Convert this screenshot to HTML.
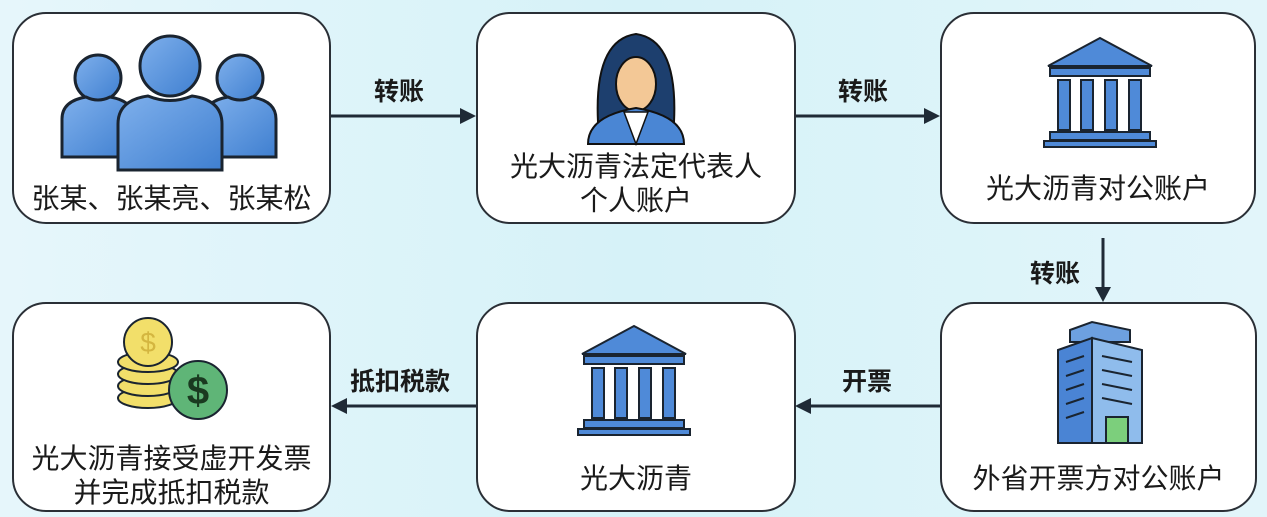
<!DOCTYPE html>
<html><head><meta charset="utf-8"><style>
body{margin:0;width:1267px;height:517px;overflow:hidden;background:linear-gradient(90deg,#e6f6fb,#d6f2f8 50%,#e2f5fa);font-family:"Liberation Sans","Noto Sans CJK SC",sans-serif;position:relative}
.b{position:absolute;background:#fff;border:2px solid #2a2f36;border-radius:34px;box-sizing:border-box}
.t{position:absolute;left:0;right:0;text-align:center;font-size:28px;color:#1a1a1a;line-height:34px}
.l{position:absolute;font-size:25px;color:#1a1a1a;font-weight:bold}
svg{position:absolute;left:0;top:0}
</style></head><body>
<div class="b" style="left:12px;top:12px;width:319px;height:212px"><div class="t" style="top:168px">张某、张某亮、张某松</div></div>
<div class="b" style="left:476px;top:12px;width:320px;height:212px"><div class="t" style="top:136px">光大沥青法定代表人<br>个人账户</div></div>
<div class="b" style="left:940px;top:12px;width:316px;height:212px"><div class="t" style="top:158px">光大沥青对公账户</div></div>
<div class="b" style="left:12px;top:302px;width:319px;height:210px"><div class="t" style="top:138px">光大沥青接受虚开发票<br>并完成抵扣税款</div></div>
<div class="b" style="left:476px;top:302px;width:320px;height:210px"><div class="t" style="top:158px">光大沥青</div></div>
<div class="b" style="left:940px;top:302px;width:317px;height:210px"><div class="t" style="top:158px">外省开票方对公账户</div></div>
<div class="l" style="left:374px;top:72px">转账</div>
<div class="l" style="left:838px;top:72px">转账</div>
<div class="l" style="left:1030px;top:254px">转账</div>
<div class="l" style="left:842px;top:362px">开票</div>
<div class="l" style="left:350px;top:362px">抵扣税款</div>
<svg width="1267" height="517">
<defs><linearGradient id="g" x1="0" y1="0" x2="1" y2="1"><stop offset="0" stop-color="#7fb0ec"/><stop offset="1" stop-color="#3f7fd0"/></linearGradient></defs>
<g stroke="#1f2a36" stroke-width="3" fill="none">
<line x1="331" y1="116" x2="462" y2="116"/><line x1="796" y1="116" x2="926" y2="116"/>
<line x1="1103" y1="238" x2="1103" y2="290"/>
<line x1="940" y1="406" x2="808" y2="406"/><line x1="476" y1="406" x2="344" y2="406"/>
</g>
<g fill="#1f2a36">
<polygon points="476,116 460,108 460,124"/><polygon points="940,116 924,108 924,124"/>
<polygon points="1103,302 1095,287 1111,287"/>
<polygon points="795,406 811,398 811,414"/><polygon points="331,406 347,398 347,414"/>
</g>
<g fill="url(#g)" stroke="#1a2430" stroke-width="3">
<circle cx="98" cy="78" r="23"/><path d="M62 157v-38q0-18 24-22q12 6 24 0q24 4 24 22v38z"/>
<circle cx="240" cy="78" r="23"/><path d="M204 157v-38q0-18 24-22q12 6 24 0q24 4 24 22v38z"/>
<circle cx="170" cy="66" r="30"/><path d="M118 170v-46q0-24 30-28q22 9 44 0q30 4 30 28v46z"/>
</g>
<!-- woman -->
<path d="M598 122q-4-82 38-88q42 6 38 88z" fill="#1d3f6e" stroke="#111" stroke-width="2"/>
<ellipse cx="636" cy="84" rx="20" ry="27" fill="#f3c896" stroke="#111" stroke-width="2"/>
<path d="M588 144q0-28 48-36q48 8 48 36z" fill="#4a86d4" stroke="#111" stroke-width="2"/>
<path d="M624 112l12 32l12-32z" fill="#fff" stroke="#111" stroke-width="1.5"/>
<!-- banks -->
<g fill="#4f8ad8" stroke="#1a2430" stroke-width="2">
<polygon points="1100,38 1152,66 1048,66"/><rect x="1050" y="68" width="100" height="8"/>
<rect x="1058" y="80" width="12" height="50"/><rect x="1081" y="80" width="12" height="50"/><rect x="1105" y="80" width="12" height="50"/><rect x="1129" y="80" width="12" height="50"/>
<rect x="1050" y="132" width="100" height="8"/><rect x="1044" y="141" width="112" height="6"/>
<polygon points="634,326 686,354 582,354"/><rect x="584" y="356" width="100" height="8"/>
<rect x="592" y="368" width="12" height="50"/><rect x="615" y="368" width="12" height="50"/><rect x="639" y="368" width="12" height="50"/><rect x="663" y="368" width="12" height="50"/>
<rect x="584" y="420" width="100" height="8"/><rect x="578" y="429" width="112" height="6"/>
</g>
<!-- building -->
<g stroke="#1a2430" stroke-width="2">
<polygon points="1070,330 1092,322 1130,330 1130,342 1070,342" fill="#6da0e0"/>
<polygon points="1058,350 1092,338 1092,443 1058,443" fill="#4a84d4"/>
<polygon points="1092,338 1142,350 1142,443 1092,443" fill="#8fbcec"/>
<rect x="1106" y="417" width="22" height="26" fill="#7ccf7c"/>
<path d="M1066 362l18-6M1066 376l18-6M1066 390l18-6M1066 404l18-6M1066 418l18-6M1102 356l30 6M1102 370l30 6M1102 384l30 6M1102 398l30 6" fill="none"/>
</g>
<!-- coins -->
<g stroke="#1a2430" stroke-width="2" fill="#f2df6a">
<ellipse cx="148" cy="398" rx="30" ry="10"/><ellipse cx="148" cy="386" rx="30" ry="10"/><ellipse cx="148" cy="374" rx="30" ry="10"/><ellipse cx="148" cy="362" rx="30" ry="10"/>
<circle cx="148" cy="342" r="24"/>
<circle cx="198" cy="390" r="29" fill="#5fb577"/>
</g>
<text x="148" y="352" font-size="28" text-anchor="middle" fill="#d4b640" font-family="Liberation Sans">$</text>
<text x="198" y="404" font-size="40" text-anchor="middle" fill="#1a3a20" font-weight="bold" font-family="Liberation Sans">$</text>
</svg>
</body></html>
